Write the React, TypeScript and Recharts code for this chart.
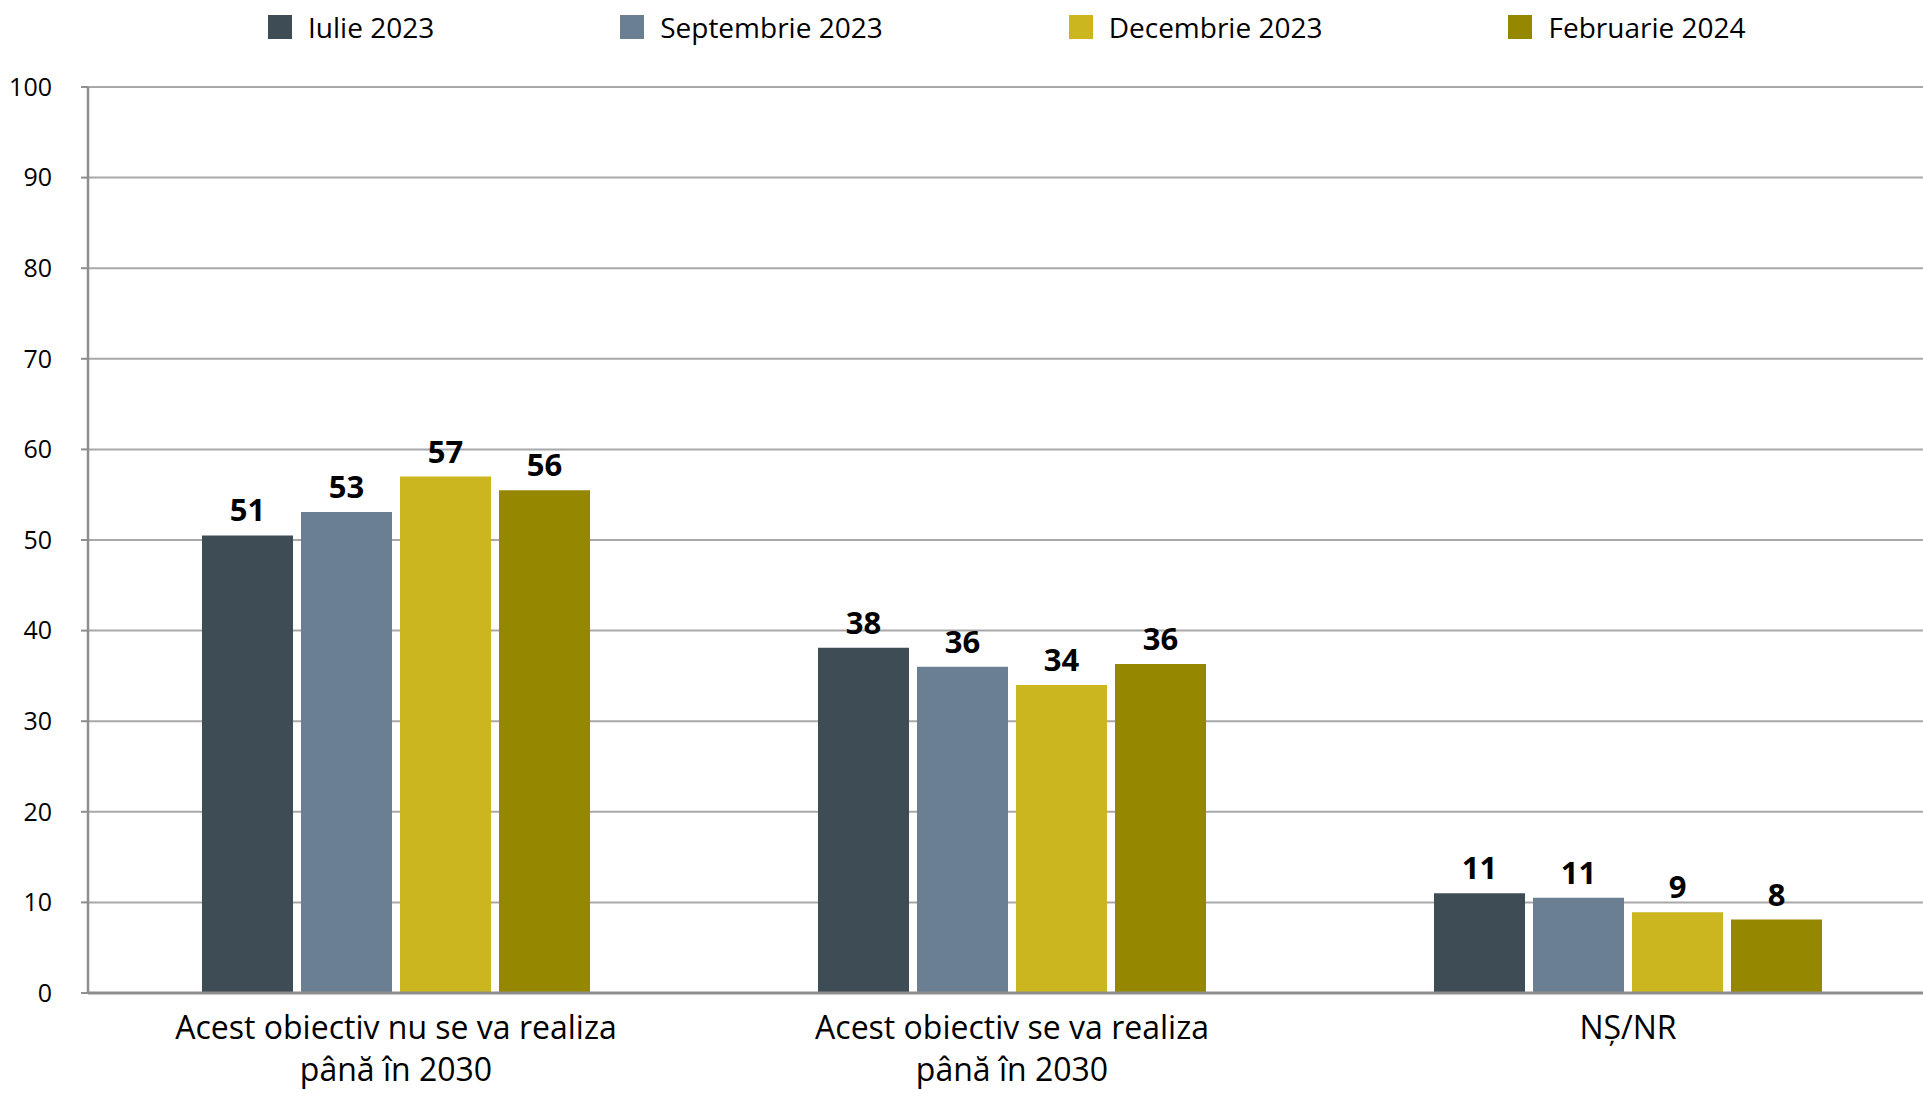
import { BarChart, Bar, XAxis, YAxis, CartesianGrid, Legend, LabelList } from 'recharts'

// data
const categories = [
  'Acest obiectiv nu se va realiza\npână în 2030',
  'Acest obiectiv se va realiza\npână în 2030',
  'NȘ/NR',
]
const iulie2023 = [50.5, 38.1, 11.0]
const septembrie2023 = [53.1, 36.0, 10.5]
const decembrie2023 = [57.0, 34.0, 8.9]
const februarie2024 = [55.5, 36.3, 8.1]

const seriesKeys = ['iulie', 'septembrie', 'decembrie', 'februarie']
const seriesNames = ['Iulie 2023', 'Septembrie 2023', 'Decembrie 2023', 'Februarie 2024']
const seriesColors = ['#3e4c56', '#6a7f92', '#cbb61f', '#968700']
const yTicks = [0, 10, 20, 30, 40, 50, 60, 70, 80, 90, 100]

const data = categories.map((category, i) => ({
  category,
  iulie: iulie2023[i],
  septembrie: septembrie2023[i],
  decembrie: decembrie2023[i],
  februarie: februarie2024[i],
}))

const CategoryTick = ({ x, y, payload }: any) => {
  const lines = String(payload.value).split('\n')
  return (
    <text x={x} y={y + 36} textAnchor="middle" fontSize={32} fill="#000">
      {lines.map((line, i) => (
        <tspan key={i} x={x} dy={i === 0 ? 0 : 42}>{line}</tspan>
      ))}
    </text>
  )
}

const TopLegend = () => (
  <div style={{ display: 'flex', alignItems: 'center', height: 54, paddingLeft: 268, gap: 186 }}>
    {seriesNames.map((name, i) => (
      <div key={name} style={{ display: 'flex', alignItems: 'center', gap: 16 }}>
        <span style={{ width: 24, height: 24, background: seriesColors[i], display: 'inline-block' }} />
        <span style={{ fontSize: 28, color: '#000', lineHeight: '28px' }}>{name}</span>
      </div>
    ))}
  </div>
)

export default function App() {
  return (
    <div
      style={{
        position: 'absolute', left: 0, top: 0, width: 1923, height: 1093,
        overflow: 'hidden', background: '#fff', fontFamily: "'Open Sans', sans-serif",
      }}
    >
      <BarChart
        width={1960}
        height={1093}
        data={data}
        margin={{ top: 33, right: 24, bottom: 0, left: 0 }}
        barSize={91}
        barGap={8}
      >
        <CartesianGrid vertical={false} stroke="#a8a8a8" strokeWidth={2} />
        <XAxis
          dataKey="category"
          height={100}
          interval={0}
          tickLine={false}
          tickSize={0}
          tickMargin={10}
          axisLine={{ stroke: '#8e8e8e', strokeWidth: 3 }}
          tick={<CategoryTick />}
        />
        <YAxis
          domain={[0, 100]}
          ticks={yTicks}
          interval={0}
          width={88}
          tickSize={7}
          tickMargin={29}
          axisLine={{ stroke: '#8e8e8e', strokeWidth: 2.5 }}
          tickLine={{ stroke: '#8e8e8e', strokeWidth: 2 }}
          tick={{ fontSize: 25, fill: '#000' }}
        />
        <Legend
          verticalAlign="top"
          wrapperStyle={{ top: 0, left: 0, width: 1960, height: 54 }}
          content={<TopLegend />}
        />
        {seriesKeys.map((key, i) => (
          <Bar key={key} dataKey={key} name={seriesNames[i]} fill={seriesColors[i]} isAnimationActive={false}>
            <LabelList
              dataKey={key}
              position="top"
              offset={14}
              formatter={(v: any) => Math.round(Number(v))}
              fill="#000"
              fontSize={31}
              fontWeight={700}
            />
          </Bar>
        ))}
      </BarChart>
    </div>
  )
}
